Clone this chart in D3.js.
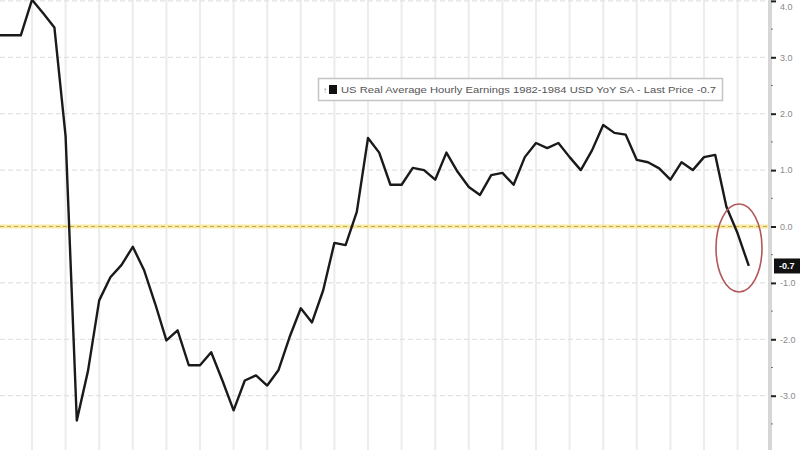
<!DOCTYPE html>
<html>
<head>
<meta charset="utf-8">
<script src="https://cdn.jsdelivr.net/npm/d3@7"></script>
<style>
  html, body { margin: 0; padding: 0; background: #ffffff; }
  svg { display: block; }
</style>
</head>
<body>
<svg id="chart" width="800" height="450"></svg>
<script>
// ---- Data ----
const months = [
  "2020-09","2020-10","2020-11","2020-12","2021-01","2021-02","2021-03","2021-04","2021-05","2021-06",
  "2021-07","2021-08","2021-09","2021-10","2021-11","2021-12","2022-01","2022-02","2022-03","2022-04",
  "2022-05","2022-06","2022-07","2022-08","2022-09","2022-10","2022-11","2022-12","2023-01","2023-02",
  "2023-03","2023-04","2023-05","2023-06","2023-07","2023-08","2023-09","2023-10","2023-11","2023-12",
  "2024-01","2024-02","2024-03","2024-04","2024-05","2024-06","2024-07","2024-08","2024-09","2024-10",
  "2024-11","2024-12","2025-01","2025-02","2025-03","2025-04","2025-05","2025-06","2025-07","2025-08",
  "2025-09","2025-10","2025-11","2025-12","2026-01","2026-02","2026-03","2026-04"
];
const realEarningsYoY = [
  3.39, 3.39, 3.39, 4.02, 3.78, 3.53, 1.60, -3.44, -2.56, -1.31,
  -0.90, -0.68, -0.36, -0.77, -1.37, -2.02, -1.84, -2.46, -2.46, -2.23,
  -2.73, -3.26, -2.73, -2.64, -2.82, -2.55, -1.96, -1.45, -1.70, -1.13,
  -0.29, -0.33, 0.26, 1.57, 1.31, 0.74, 0.74, 1.04, 1.00, 0.83,
  1.31, 0.97, 0.70, 0.56, 0.91, 0.95, 0.74, 1.23, 1.48, 1.39,
  1.48, 1.23, 1.00, 1.35, 1.80, 1.66, 1.63, 1.18, 1.14, 1.03,
  0.83, 1.14, 1.00, 1.23, 1.27, 0.35, -0.12, -0.70
];
const yTickValues = [4, 3, 2, 1, 0, -1, -2, -3];
const yTickLabels = ["4.0", "3.0", "2.0", "1.0", "0.0", "-1.0", "-2.0", "-3.0"];
const legendText = "US Real Average Hourly Earnings 1982-1984 USD YoY SA - Last Price -0.7";
const lastPriceLabel = "-0.7";
const zeroLineValue = 0;

// ---- Layout ----
const W = 800, H = 450;
const axisX = 770;
const svg = d3.select("#chart");

const x = d3.scalePoint().domain(months).range([-1.6, 748.8]);
const y = d3.scaleLinear().domain([-3, 4]).range([395.7, 0.9]);

// vertical grid lines (quarterly)
const gridX = [];
for (let i = 3; i < months.length; i += 3) gridX.push(x(months[i]));
svg.append("g").selectAll("line").data(gridX).join("line")
  .attr("x1", d => d).attr("x2", d => d)
  .attr("y1", 0).attr("y2", H)
  .attr("stroke", "#ececec").attr("stroke-width", 2);

// horizontal grid lines
svg.append("g").selectAll("line").data(yTickValues.filter(v => v !== 0)).join("line")
  .attr("x1", 0).attr("x2", axisX)
  .attr("y1", d => y(d)).attr("y2", d => y(d))
  .attr("stroke", "#e2e2e2").attr("stroke-width", 1.2)
  .attr("stroke-dasharray", "5,3");

// zero reference line (yellow)
svg.append("line")
  .attr("x1", 0).attr("x2", axisX)
  .attr("y1", y(zeroLineValue)).attr("y2", y(zeroLineValue))
  .attr("stroke", "#f6eaa8").attr("stroke-width", 4);
svg.append("line")
  .attr("x1", 0).attr("x2", axisX)
  .attr("y1", y(zeroLineValue)).attr("y2", y(zeroLineValue))
  .attr("stroke", "#c9a640").attr("stroke-width", 1.2)
  .attr("stroke-dasharray", "4,3");

// series line
const line = d3.line()
  .x((d, i) => x(months[i]))
  .y(d => y(d));
svg.append("path")
  .datum(realEarningsYoY)
  .attr("fill", "none")
  .attr("stroke", "#1a1a1a")
  .attr("stroke-width", 2.4)
  .attr("stroke-linejoin", "round")
  .attr("d", line);

// right axis
svg.append("rect")
  .attr("x", axisX - 2).attr("y", 0).attr("width", 4).attr("height", H)
  .attr("fill", "#d6d6d6");

const yAxis = d3.axisRight(y)
  .tickValues(yTickValues)
  .tickFormat((d, i) => yTickLabels[i])
  .tickSize(5)
  .tickPadding(4);
const ax = svg.append("g")
  .attr("transform", `translate(${axisX + 1},0)`)
  .call(yAxis);
ax.select(".domain").remove();
ax.selectAll(".tick line").attr("stroke", "#222").attr("stroke-width", 2);
ax.selectAll(".tick text")
  .attr("fill", "#8a8a8a")
  .style("font-family", "Arial, 'Liberation Sans', sans-serif")
  .style("font-size", "9px");
// keep the top label inside the picture
ax.selectAll(".tick text").filter(d => d === 4).attr("dy", "0.95em");

// minor ticks
const minor = d3.range(-3.5, 4.01, 0.5).filter(v => !yTickValues.includes(v));
svg.append("g").selectAll("rect").data(minor).join("rect")
  .attr("x", axisX + 1).attr("y", d => y(d) - 0.5)
  .attr("width", 2).attr("height", 1)
  .attr("fill", "#777");

// last price label
const lpY = y(realEarningsYoY[realEarningsYoY.length - 1]);
svg.append("rect")
  .attr("x", axisX + 4).attr("y", lpY - 7.5)
  .attr("width", W - axisX - 4).attr("height", 15)
  .attr("fill", "#111");
svg.append("text")
  .attr("x", axisX + 9).attr("y", lpY + 3.5)
  .attr("fill", "#ffffff")
  .style("font-family", "Arial, 'Liberation Sans', sans-serif")
  .style("font-size", "9px")
  .style("font-weight", "bold")
  .text(lastPriceLabel);

// legend box
const lg = svg.append("g");
lg.append("rect")
  .attr("x", 318.5).attr("y", 78.5).attr("width", 404).attr("height", 22)
  .attr("fill", "#ffffff").attr("stroke", "#c4c4c4").attr("stroke-width", 1.5);
lg.append("text")
  .attr("x", 323).attr("y", 93)
  .attr("fill", "#888")
  .style("font-family", "Arial, sans-serif").style("font-size", "8px")
  .text("\u2191");
lg.append("rect")
  .attr("x", 329).attr("y", 85).attr("width", 8).attr("height", 9)
  .attr("fill", "#111");
lg.append("text")
  .attr("x", 341).attr("y", 93)
  .attr("fill", "#555")
  .attr("textLength", 375)
  .attr("lengthAdjust", "spacingAndGlyphs")
  .style("font-family", "Arial, 'Liberation Sans', sans-serif")
  .style("font-size", "9px")
  .text(legendText);

// red ellipse annotation
svg.append("ellipse")
  .attr("cx", 739).attr("cy", 248)
  .attr("rx", 23).attr("ry", 44)
  .attr("fill", "none")
  .attr("stroke", "#b0585a")
  .attr("stroke-width", 1.6);
</script>
</body>
</html>
